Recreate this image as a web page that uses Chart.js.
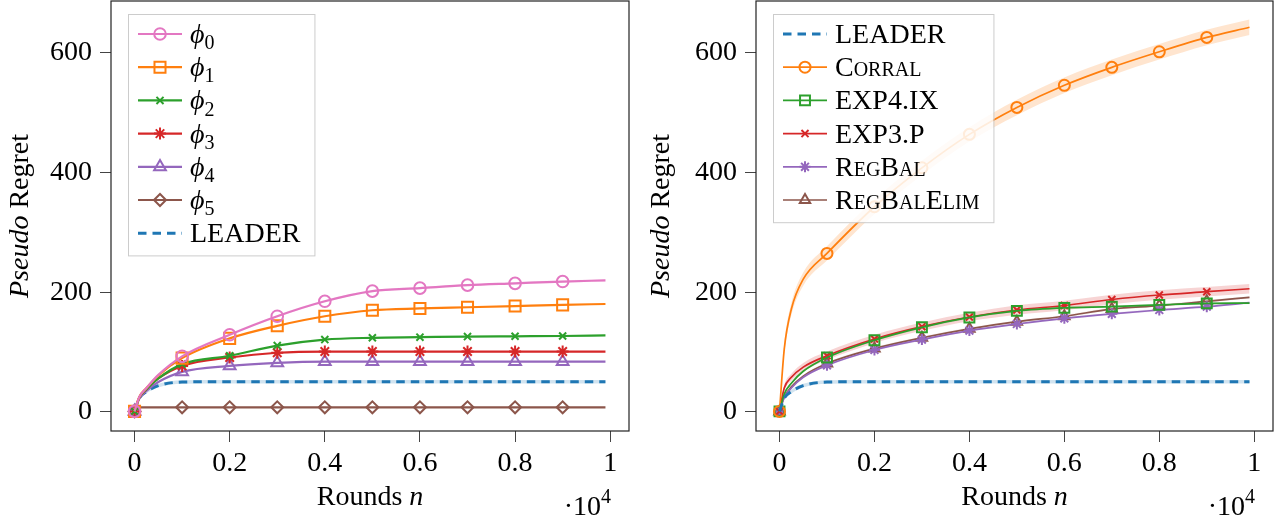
<!DOCTYPE html>
<html>
<head>
<meta charset="utf-8">
<script src="https://cdn.jsdelivr.net/npm/chart.js@4.4.0/dist/chart.umd.min.js"></script>
<style>
  html, body { margin: 0; padding: 0; background: #fff; }
  #wrap { position: relative; width: 1282px; height: 518px; }
  canvas { position: absolute; top: 0; }
  #left { left: 0; }
  #right { left: 641px; }
</style>
</head>
<body>
<div id="wrap">
  <canvas id="left" width="641" height="518"></canvas>
  <canvas id="right" width="641" height="518"></canvas>
</div>
<script>
// Fonts and sizes
const FONT = "'Liberation Serif', 'DejaVu Serif', serif";
const FS = 28;
const FRAME_TOP = 1;

// Shared x positions (rounds) and tick values
const rounds = [0, 100, 250, 500, 1000, 2000, 3000, 4000, 5000, 6000, 7000, 8000, 9000, 9900];
const xTicks = [0, 2000, 4000, 6000, 8000, 10000];
const yTicks = [0, 200, 400, 600];

// Left chart: regret of each base learner phi_i and LEADER
const phi0 = [1, 25, 40, 62, 93, 129, 160, 185, 202, 207, 212, 215, 218, 220];
const phi1 = [1, 25, 40, 61, 90, 123, 144, 160, 170, 173, 175, 177, 179, 180.5];
const phi2 = [1, 24, 38, 56, 80, 94, 111, 121, 124, 125, 126, 126.5, 127, 128];
const phi3 = [1, 24, 38, 56, 77, 91, 99, 101, 101, 101, 101, 101, 101, 101];
const phi4 = [1, 22, 35, 50, 67, 77, 82, 84, 84, 84, 84, 84, 84, 84];
const phi5 = [1, 7.8, 7.8, 7.8, 7.8, 7.8, 7.8, 7.8, 7.8, 7.8, 7.8, 7.8, 7.8, 7.8];
const leader = [1, 23, 34, 44, 50, 50.6, 50.6, 50.6, 50.6, 50.6, 50.6, 50.6, 50.6, 50.6];
const leaderSpread = [0, 2, 3, 3, 3, 3, 3, 3, 3, 3, 3, 3, 3, 3];
const phi0Spread = [0, 1, 2, 2, 2, 2, 2, 2, 2, 2, 2, 2, 2, 2];

// Right chart: comparison of algorithms
const corral = [1, 105, 172, 222, 265, 343, 408, 464, 509, 546, 576, 602, 626, 643];
const corralSpread = [0, 8, 10, 11, 12, 12, 12, 12, 13, 13, 13, 13, 13, 13];
const exp4ix = [1, 30, 48, 68, 91, 120, 141.5, 158, 169, 174, 176, 179, 181.5, 182];
const exp3p = [1, 40, 58, 75, 94, 122, 142.6, 158.7, 170.4, 178, 188, 195.5, 201, 206];
const exp3pSpread = [0, 5, 6, 7, 7, 7, 7, 7, 8, 8, 8, 8, 8, 8];
const regbal = [1, 24, 40, 58, 78, 103.6, 121, 136, 147, 156.5, 164, 170.4, 176, 182.7];
const regbalElim = [1, 25, 42, 60, 81, 106, 124, 139, 151, 160, 172, 177.7, 185, 191.6];
const smallSpread = [0, 1, 2, 2, 2, 2, 2, 2, 2, 2, 2, 2, 2, 2];

const BLUE = '#1f77b4', ORANGE = '#ff7f0e', GREEN = '#2ca02c', RED = '#d62728',
      PURPLE = '#9467bd', BROWN = '#8c564b', PINK = '#e377c2';

function pts(values) {
    return values.map((v, i) => ({ x: rounds[i], y: v }));
}

// markers only every 1000 rounds (as in the original plot)
function markerRadius(r) {
    return (ctx) => {
        const x = rounds[ctx.dataIndex];
        return (x % 1000 === 0 && x <= 9000) ? r : 0;
    };
}

function series(label, values, color, style, r, opts) {
    return Object.assign({
        label: label,
        data: pts(values),
        borderColor: color,
        backgroundColor: 'rgba(0,0,0,0)',
        borderWidth: 2.2,
        pointStyle: style,
        pointRadius: markerRadius(r),
        pointHoverRadius: 0,
        pointBorderWidth: 2,
        pointBorderColor: color,
        pointBackgroundColor: 'rgba(255,255,255,0)',
        cubicInterpolationMode: 'monotone',
        fill: false,
        markerSize: r,
        order: 1
    }, opts || {});
}

function band(values, spread, fillColor) {
    const common = {
        borderWidth: 0, borderColor: 'rgba(0,0,0,0)', pointRadius: 0,
        cubicInterpolationMode: 'monotone', order: 5, isBand: true
    };
    return [
        Object.assign({ data: values.map((v, i) => ({ x: rounds[i], y: v + spread[i] })), fill: false }, common),
        Object.assign({ data: values.map((v, i) => ({ x: rounds[i], y: v - spread[i] })), fill: '-1', backgroundColor: fillColor }, common)
    ];
}

const phiLabel = (n) => [{ t: '\u03D5', it: true }, { t: String(n), sub: true }];

const leftDatasets = [
    series('phi0', phi0, PINK, 'circle', 5.8, { legend: phiLabel(0) }),
    series('phi1', phi1, ORANGE, 'rect', 7.8, { legend: phiLabel(1) }),
    series('phi2', phi2, GREEN, 'crossRot', 5, { legend: phiLabel(2) }),
    series('phi3', phi3, RED, 'star', 6, { legend: phiLabel(3) }),
    series('phi4', phi4, PURPLE, 'triangle', 6.8, { legend: phiLabel(4) }),
    series('phi5', phi5, BROWN, 'rectRot', 6, { legend: phiLabel(5) }),
    series('LEADER', leader, BLUE, false, 0, { borderWidth: 3, borderDash: [8.5, 6], legend: [{ t: 'LEADER' }] }),
    ...band(leader, leaderSpread, 'rgba(31,119,180,0.2)'),
    ...band(phi0, phi0Spread, 'rgba(227,119,194,0.15)')
];

const rightDatasets = [
    series('LEADER', leader, BLUE, false, 0, { borderWidth: 3, borderDash: [8.5, 6], legend: [{ t: 'LEADER' }] }),
    series('Corral', corral, ORANGE, 'circle', 5.5, { borderWidth: 1.7, legend: [{ t: 'Corral', sc: true }] }),
    series('EXP4.IX', exp4ix, GREEN, 'rect', 7, { borderWidth: 1.7, legend: [{ t: 'EXP4.IX' }] }),
    series('EXP3.P', exp3p, RED, 'crossRot', 5, { borderWidth: 1.7, legend: [{ t: 'EXP3.P' }] }),
    series('RegBal', regbal, PURPLE, 'star', 5.5, { borderWidth: 1.7, legend: [{ t: 'RegBal', sc: true }] }),
    series('RegBalElim', regbalElim, BROWN, 'triangle', 6, { borderWidth: 1.7, legend: [{ t: 'RegBalElim', sc: true }] }),
    ...band(leader, leaderSpread, 'rgba(31,119,180,0.2)'),
    ...band(corral, corralSpread, 'rgba(255,127,14,0.2)'),
    ...band(exp3p, exp3pSpread, 'rgba(214,39,40,0.2)'),
    ...band(exp4ix, smallSpread, 'rgba(44,160,44,0.12)'),
    ...band(regbal, smallSpread, 'rgba(148,103,189,0.12)'),
    ...band(regbalElim, smallSpread, 'rgba(140,86,75,0.12)')
];

// text with italic / small caps / sub / superscript pieces
function segFont(s) {
    const size = (s.sub || s.sup) ? Math.round(FS * 0.7) : FS;
    return (s.it ? 'italic ' : '') + (s.sc ? 'small-caps ' : '') + size + 'px ' + FONT;
}
function richWidth(ctx, segs) {
    let w = 0;
    segs.forEach(s => { ctx.font = segFont(s); w += ctx.measureText(s.t).width; });
    return w;
}
function drawRich(ctx, segs, x, y, align) {
    const total = richWidth(ctx, segs);
    let cx = align === 'center' ? x - total / 2 : (align === 'right' ? x - total : x);
    ctx.textAlign = 'left';
    ctx.textBaseline = 'alphabetic';
    segs.forEach(s => {
        ctx.font = segFont(s);
        ctx.fontVariantCaps = s.sc ? 'small-caps' : 'normal';
        const dy = s.sub ? FS * 0.22 : (s.sup ? -FS * 0.42 : 0);
        ctx.fillText(s.t, cx, y + dy);
        cx += ctx.measureText(s.t).width;
    });
    ctx.fontVariantCaps = 'normal';
}

// frame, legend box and axis titles
const decor = {
    id: 'decor',
    afterLayout(chart) {
        // keep the plot box flush with the top edge, like the original figure
        const a = chart.chartArea;
        if (a.top !== FRAME_TOP) {
            a.top = FRAME_TOP;
            a.height = a.bottom - a.top;
            const y = chart.scales.y;
            y.top = FRAME_TOP;
            y.height = y.bottom - y.top;
            y.configure();
        }
    },
    afterDatasetsDraw(chart) {
        const { ctx, chartArea: a } = chart;
        ctx.save();
        // legend
        const items = chart.data.datasets.filter(d => !d.isBand);
        let maxW = 0;
        items.forEach(d => { maxW = Math.max(maxW, richWidth(ctx, d.legend)); });
        const bx = a.left + 17, by = 14;
        const rowH = 33.2;
        const bw = 62 + maxW + 14, bh = items.length * rowH + 9;
        ctx.fillStyle = 'rgba(255,255,255,0.85)';
        ctx.fillRect(bx, by, bw, bh);
        ctx.strokeStyle = '#cccccc';
        ctx.lineWidth = 1;
        ctx.strokeRect(bx + 0.5, by + 0.5, bw, bh);
        items.forEach((d, i) => {
            const cy = by + 20 + i * rowH;
            ctx.strokeStyle = d.borderColor;
            ctx.lineWidth = d.borderWidth;
            ctx.setLineDash(d.borderDash || []);
            ctx.beginPath();
            ctx.moveTo(bx + 10, cy);
            ctx.lineTo(bx + 54, cy);
            ctx.stroke();
            ctx.setLineDash([]);
            if (d.pointStyle) {
                ctx.strokeStyle = d.borderColor;
                ctx.fillStyle = 'rgba(255,255,255,0)';
                ctx.lineWidth = d.pointBorderWidth;
                Chart.helpers.drawPoint(ctx, {
                    pointStyle: d.pointStyle, radius: d.markerSize, rotation: 0, borderWidth: d.pointBorderWidth
                }, bx + 32, cy);
            }
            ctx.fillStyle = '#000';
            drawRich(ctx, d.legend, bx + 62, cy + 9, 'left');
        });
        // frame
        ctx.strokeStyle = '#222';
        ctx.lineWidth = 1.2;
        ctx.strokeRect(a.left, a.top, a.right - a.left, a.bottom - a.top);
        ctx.restore();
    },
    afterDraw(chart) {
        const { ctx, chartArea: a } = chart;
        ctx.save();
        ctx.fillStyle = '#000';
        // x title
        drawRich(ctx, [{ t: 'Rounds ' }, { t: 'n', it: true }], (a.left + a.right) / 2, 505, 'center');
        // scale factor
        drawRich(ctx, [{ t: '\u00B710' }, { t: '4', sup: true }], a.right - 18, 515, 'right');
        // y title
        ctx.translate(28, (a.top + a.bottom) / 2);
        ctx.rotate(-Math.PI / 2);
        drawRich(ctx, [{ t: 'Pseudo', it: true }, { t: ' Regret' }], 0, 0, 'center');
        ctx.restore();
    }
};

function makeOptions(yWidth, rightPad) {
    return {
        responsive: false,
        animation: false,
        layout: { padding: { top: FRAME_TOP, right: rightPad, left: 0, bottom: 0 } },
        plugins: { legend: { display: false }, tooltip: { enabled: false } },
        events: [],
        scales: {
            x: {
                type: 'linear',
                min: -495,
                max: 10395,
                afterBuildTicks: (scale) => { scale.ticks = xTicks.map(v => ({ value: v })); },
                afterFit: (scale) => {
                    scale.height = 87;
                    scale.paddingLeft = 0;
                    scale.paddingRight = 0;
                },
                grid: { drawOnChartArea: false, drawTicks: true, tickLength: 11, color: '#444' },
                border: { display: false },
                ticks: {
                    font: { family: FONT, size: FS },
                    color: '#000',
                    padding: 5,
                    maxRotation: 0,
                    callback: (v) => String(v / 10000)
                }
            },
            y: {
                type: 'linear',
                min: -31.8,
                max: 686.9,
                afterBuildTicks: (scale) => { scale.ticks = yTicks.map(v => ({ value: v })); },
                afterFit: (scale) => {
                    scale.width = yWidth;
                    scale.paddingTop = 0;
                    scale.paddingBottom = 0;
                },
                grid: { drawOnChartArea: false, drawTicks: true, tickLength: 11, color: '#444' },
                border: { display: false },
                ticks: {
                    font: { family: FONT, size: FS },
                    color: '#000',
                    padding: 8
                }
            }
        }
    };
}

new Chart(document.getElementById('left').getContext('2d'), {
    type: 'line',
    data: { datasets: leftDatasets },
    options: makeOptions(111, 12),
    plugins: [decor]
});

new Chart(document.getElementById('right').getContext('2d'), {
    type: 'line',
    data: { datasets: rightDatasets },
    options: makeOptions(115, 8),
    plugins: [decor]
});
</script>
</body>
</html>
